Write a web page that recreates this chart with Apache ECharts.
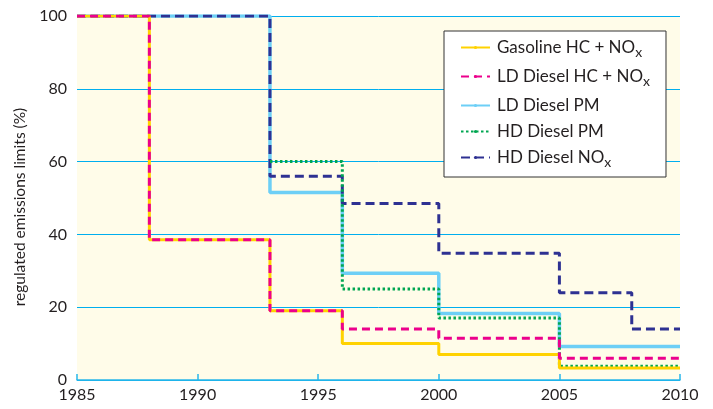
<!DOCTYPE html>
<html><head><meta charset="utf-8">
<script src="https://cdn.jsdelivr.net/npm/echarts@6/dist/echarts.min.js"></script>
<style>html,body{margin:0;padding:0;background:#fff}#c{width:713px;height:409px}</style>
</head><body><div id="c"></div>
<script>
const seriesNames = ['Gasoline HC + NOx','LD Diesel HC + NOx','LD Diesel PM','HD Diesel PM','HD Diesel NOx'];
const gasolineYears = [1985,1988,1993,1996,2000,2005,2010];
const gasolineVals  = [100,38.5,19,10,7,3.3,3.3];
const ldHcYears = [1985,1988,1993,1996,2000,2005,2010];
const ldHcVals  = [100,38.5,19,14,11.5,6,6];
const ldPmYears = [1985,1993,1996,2000,2005,2010];
const ldPmVals  = [100,51.5,29.3,18.3,9.2,9.2];
const hdPmYears = [1993,1996,2000,2005,2010];
const hdPmVals  = [60,25,17,3.8,3.8];
const hdNoxYears = [1985,1993,1996,2000,2005,2008,2010];
const hdNoxVals  = [100,56,48.5,34.8,24,14,14];
const xTicks = [1985,1990,1995,2000,2005,2010];
const yTicks = [0,20,40,60,80,100];

const pairs = (xs, ys) => xs.map((x,i)=>[x, ys[i]]);
const font = 'Lato';
const chart = echarts.init(document.getElementById('c'), null, {renderer:'canvas'});
function mk(name, xs, ys, color, width, type, z){
  return {name, type:'line', step:'end', data:pairs(xs,ys), symbol:'none', z,
    lineStyle:{color, width, type}, itemStyle:{color}, animation:false};
}
chart.setOption({
  animation:false,
  grid:{left:77, right:33, top:16, bottom:29, show:true, backgroundColor:'#FFFCE9', borderWidth:0},
  xAxis:{type:'value', min:xTicks[0], max:xTicks[xTicks.length-1], interval:5,
    axisLine:{lineStyle:{color:'#29B6EA', width:1.5}},
    axisTick:{inside:true, length:6, lineStyle:{color:'#29B6EA', width:1.5}},
    axisLabel:{color:'#231F20', fontFamily:font, fontSize:16, margin:7, formatter:v=>String(v)},
    splitLine:{show:false}},
  yAxis:{type:'value', min:yTicks[0], max:yTicks[yTicks.length-1], interval:20,
    name:'regulated emissions limits (%)', nameLocation:'middle', nameGap:47,
    nameTextStyle:{color:'#231F20', fontFamily:font, fontSize:15.5, padding:[0,18,0,0]},
    axisLine:{show:false}, axisTick:{show:false},
    axisLabel:{color:'#231F20', fontFamily:font, fontSize:16, margin:10},
    splitLine:{lineStyle:{color:'#00AEEF', width:1}}},
  legend:{
    orient:'vertical', left:444, top:31, width:218,
    backgroundColor:'#fff', borderColor:'#333', borderWidth:1,
    padding:[8,16,8,16], itemGap:9, itemWidth:29, itemHeight:4,
    data:seriesNames,
    formatter:n=>n.replace('NOx','NO{sub|x}'),
    textStyle:{color:'#231F20', fontFamily:font, fontSize:17, padding:[0,0,0,2],
      rich:{sub:{fontFamily:font, fontSize:14, color:'#231F20', padding:[9,0,0,0]}}}
  },
  series:[
    mk(seriesNames[2], ldPmYears, ldPmVals, '#6DCFF6', 3.5, 'solid', 2),
    mk(seriesNames[4], hdNoxYears, hdNoxVals, '#2E3192', 3, [9,5], 3),
    mk(seriesNames[3], hdPmYears, hdPmVals, '#00A651', 3, [2.5,2.5], 4),
    mk(seriesNames[0], gasolineYears, gasolineVals, '#FFD200', 3, 'solid', 5),
    mk(seriesNames[1], ldHcYears, ldHcVals, '#EC008C', 3, [8,5], 6)
  ]
});
</script></body></html>
